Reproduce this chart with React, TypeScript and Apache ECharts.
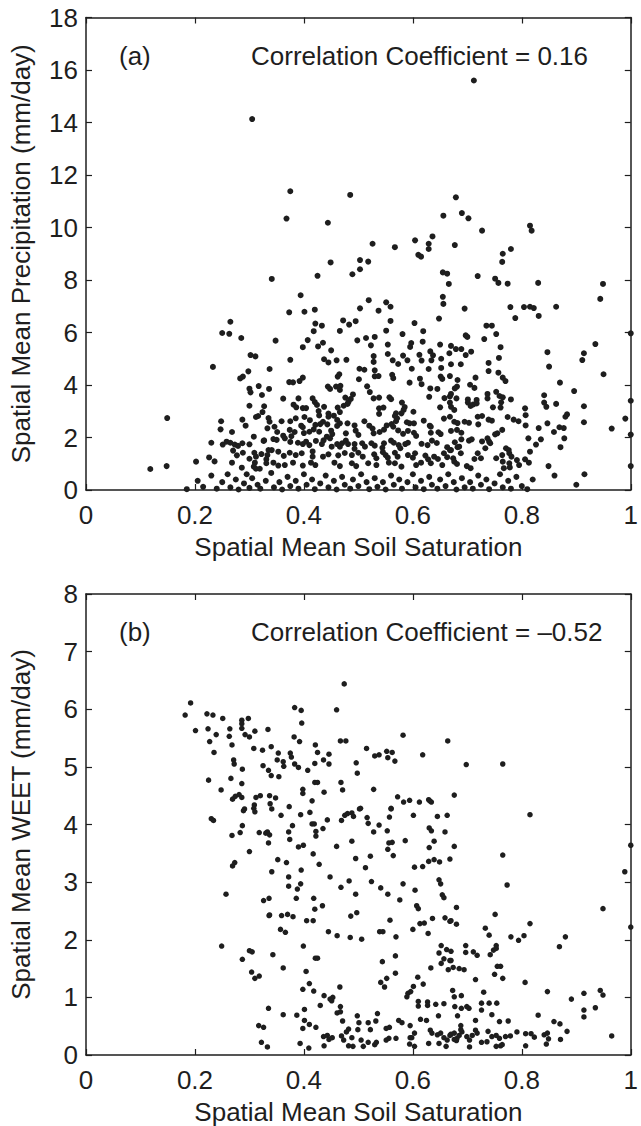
import React, { useEffect, useRef } from "react";
import * as echarts from "echarts";

// ---- Data ----
const xTicks = [0, 0.2, 0.4, 0.6, 0.8, 1];
const precipTicks = [0, 2, 4, 6, 8, 10, 12, 14, 16, 18];
const weetTicks = [0, 1, 2, 3, 4, 5, 6, 7, 8];

// (a) soil saturation vs precipitation (mm/day)
const precipHigh: [number, number][] = [
  [0.712, 15.6], [0.305, 14.13], [0.375, 11.38], [0.485, 11.24], [0.368, 10.34], [0.444, 10.18],
  [0.449, 8.67], [0.503, 8.76], [0.503, 8.41], [0.489, 8.22], [0.425, 8.16], [0.341, 8.04],
  [0.518, 8.7], [0.526, 9.38], [0.567, 9.25], [0.604, 9.51], [0.61, 8.96], [0.615, 8.89],
  [0.629, 9.38], [0.629, 9.18], [0.636, 9.66], [0.656, 10.45], [0.679, 11.15], [0.69, 10.55],
  [0.702, 10.35], [0.727, 9.88], [0.677, 9.33], [0.655, 8.29], [0.663, 8.24], [0.719, 8.15],
  [0.751, 8.05], [0.764, 8.69], [0.765, 9.0], [0.78, 9.18], [0.815, 10.07], [0.818, 9.88],
];
const precipLeft: [number, number][] = [
  [0.265, 6.41], [0.25, 5.98], [0.263, 5.95], [0.285, 5.79], [0.302, 5.14], [0.311, 5.09],
  [0.233, 4.69], [0.337, 4.61], [0.298, 4.52], [0.283, 4.25], [0.288, 4.32], [0.3, 3.86],
  [0.302, 3.72], [0.317, 3.96], [0.323, 3.62], [0.336, 3.85], [0.3, 3.21], [0.327, 3.19],
  [0.324, 2.97], [0.149, 2.74], [0.248, 2.62], [0.287, 2.68], [0.293, 2.45], [0.312, 2.78],
  [0.316, 2.82], [0.335, 2.74], [0.333, 2.35], [0.247, 2.31], [0.268, 2.21], [0.308, 2.03],
  [0.327, 1.89], [0.23, 1.8], [0.251, 1.73], [0.258, 1.84], [0.265, 1.8], [0.273, 1.73],
  [0.279, 1.68], [0.287, 1.78], [0.3, 1.74], [0.27, 1.5], [0.277, 1.32], [0.288, 1.42],
  [0.3, 1.19], [0.309, 1.42], [0.312, 1.27], [0.322, 1.37], [0.326, 1.87], [0.335, 1.52],
  [0.333, 1.33], [0.331, 1.17], [0.331, 1.02], [0.31, 1.04], [0.308, 0.89], [0.268, 1.04],
  [0.286, 0.85], [0.226, 1.24], [0.236, 1.09], [0.202, 1.08], [0.148, 0.91], [0.118, 0.8],
  [0.312, 0.81], [0.319, 0.81],
];
const precipMid: [number, number][] = [
  [0.666, 7.85], [0.394, 7.42], [0.373, 6.77], [0.401, 6.79], [0.42, 6.87], [0.519, 7.23],
  [0.503, 6.92], [0.537, 6.83], [0.551, 7.15], [0.559, 6.98], [0.655, 7.36], [0.656, 7.09],
  [0.348, 5.69], [0.421, 6.34], [0.433, 6.26], [0.418, 6.05], [0.472, 6.46], [0.483, 6.3],
  [0.495, 6.43], [0.466, 6.06], [0.559, 6.44], [0.551, 6.07], [0.603, 6.36], [0.619, 6.05],
  [0.648, 6.53], [0.581, 5.94], [0.407, 5.71], [0.398, 5.44], [0.426, 5.47], [0.435, 5.61],
  [0.498, 5.7], [0.514, 5.79], [0.53, 5.83], [0.523, 5.51], [0.554, 5.54], [0.597, 5.6],
  [0.595, 5.45], [0.618, 5.65], [0.65, 5.54], [0.45, 5.32], [0.375, 4.96], [0.437, 4.98],
  [0.445, 4.86], [0.46, 4.94], [0.478, 4.96], [0.528, 5.1], [0.528, 4.88], [0.554, 5.18],
  [0.563, 4.94], [0.573, 4.8], [0.582, 5.12], [0.59, 4.94], [0.612, 5.15], [0.616, 4.93],
  [0.632, 5.28], [0.637, 5.13], [0.634, 4.94], [0.652, 5.0], [0.667, 5.21], [0.502, 4.62],
  [0.511, 4.58], [0.53, 4.56], [0.598, 4.62], [0.629, 4.61], [0.652, 4.65], [0.465, 4.41],
  [0.462, 4.32], [0.398, 4.28], [0.392, 4.15], [0.373, 4.11], [0.38, 4.1], [0.501, 4.22],
  [0.53, 4.33], [0.537, 4.34], [0.562, 4.39], [0.564, 4.26], [0.594, 4.09], [0.613, 4.24],
  [0.616, 4.03], [0.651, 4.32], [0.654, 4.23], [0.668, 4.34], [0.444, 3.94], [0.448, 3.85],
  [0.459, 3.94], [0.467, 3.97], [0.466, 3.81], [0.516, 3.95], [0.49, 3.64], [0.521, 3.73],
  [0.632, 3.87], [0.63, 3.55], [0.645, 3.85], [0.362, 3.48], [0.39, 3.49], [0.416, 3.49],
  [0.42, 3.35], [0.424, 3.24], [0.437, 3.17], [0.476, 3.52], [0.482, 3.36], [0.486, 3.47],
  [0.528, 3.49], [0.538, 3.52], [0.557, 3.53], [0.56, 3.46], [0.58, 3.33], [0.585, 3.16],
  [0.583, 3.05], [0.658, 3.5], [0.668, 3.57], [0.381, 3.25], [0.386, 3.15], [0.398, 3.12],
  [0.404, 3.12], [0.427, 3.01], [0.428, 2.84], [0.445, 2.91], [0.455, 2.83], [0.462, 3.14],
  [0.466, 2.97], [0.473, 3.21], [0.48, 3.28], [0.538, 3.11], [0.546, 3.14], [0.538, 2.9],
  [0.569, 2.92], [0.567, 2.82], [0.601, 2.98], [0.65, 3.15], [0.67, 3.17], [0.668, 3.33],
  [0.359, 2.62], [0.375, 2.62], [0.385, 2.73], [0.401, 2.78], [0.411, 2.66], [0.395, 2.45],
  [0.398, 2.39], [0.421, 2.48], [0.43, 2.51], [0.435, 2.6], [0.443, 2.5], [0.445, 2.79],
  [0.461, 2.67], [0.466, 2.54], [0.461, 2.44], [0.48, 2.54], [0.493, 2.46], [0.511, 2.62],
  [0.52, 2.45], [0.526, 2.34], [0.552, 2.46], [0.561, 2.51], [0.569, 2.62], [0.571, 2.73],
  [0.579, 2.92], [0.573, 2.27], [0.564, 2.41], [0.589, 2.58], [0.594, 2.54], [0.602, 2.54],
  [0.62, 2.64], [0.631, 2.45], [0.633, 2.41], [0.657, 2.72], [0.668, 2.79], [0.337, 2.6],
  [0.346, 2.41], [0.351, 2.21], [0.374, 2.29], [0.383, 2.21], [0.4, 2.17], [0.41, 2.22],
  [0.418, 2.31], [0.428, 2.22], [0.45, 2.26], [0.452, 2.13], [0.477, 2.16], [0.495, 2.26],
  [0.5, 2.1], [0.528, 2.16], [0.539, 2.21], [0.547, 2.3], [0.582, 2.14], [0.591, 2.25],
  [0.602, 2.18], [0.606, 2.06], [0.633, 2.18], [0.647, 2.2], [0.651, 2.13], [0.344, 1.94],
  [0.35, 1.91], [0.362, 2.07], [0.365, 1.97], [0.377, 2.05], [0.375, 1.83], [0.389, 1.8],
  [0.398, 1.75], [0.404, 1.84], [0.41, 1.71], [0.422, 1.87], [0.433, 1.75], [0.436, 1.89],
  [0.442, 2.03], [0.448, 1.97], [0.451, 1.65], [0.461, 1.75], [0.466, 1.65], [0.47, 1.78],
  [0.477, 1.88], [0.481, 1.75], [0.493, 1.75], [0.493, 1.57], [0.507, 1.78], [0.512, 1.65],
  [0.524, 1.78], [0.53, 1.69], [0.547, 1.78], [0.544, 1.61], [0.56, 1.88], [0.565, 1.8],
  [0.574, 1.71], [0.577, 1.59], [0.586, 1.75], [0.591, 1.8], [0.616, 1.76], [0.627, 1.71],
  [0.635, 1.88], [0.644, 1.79], [0.663, 1.63], [0.668, 1.52], [0.341, 1.52], [0.353, 1.46],
  [0.363, 1.3], [0.374, 1.42], [0.385, 1.33], [0.396, 1.4], [0.416, 1.47], [0.416, 1.27],
  [0.435, 1.27], [0.445, 1.36], [0.463, 1.32], [0.475, 1.41], [0.488, 1.33], [0.5, 1.42],
  [0.508, 1.27], [0.529, 1.36], [0.533, 1.21], [0.545, 1.44], [0.55, 1.33], [0.554, 1.23],
  [0.567, 1.42], [0.572, 1.27], [0.591, 1.33], [0.6, 1.23], [0.604, 1.4], [0.623, 1.31],
  [0.628, 1.17], [0.639, 1.27], [0.646, 1.18], [0.657, 1.4], [0.663, 1.25], [0.344, 1.04],
  [0.353, 0.93], [0.365, 0.95], [0.38, 1.04], [0.398, 0.93], [0.413, 1.04], [0.421, 0.95],
  [0.456, 1.04], [0.466, 0.91], [0.488, 1.02], [0.496, 0.91], [0.518, 1.02], [0.533, 0.95],
  [0.556, 1.04], [0.567, 1.02], [0.579, 0.89], [0.606, 0.95], [0.615, 1.04], [0.633, 1.02],
  [0.654, 0.95],
];
const precipRight: [number, number][] = [
  [0.757, 7.89], [0.774, 7.86], [0.83, 7.89], [0.949, 7.85], [0.944, 7.28], [0.695, 6.91],
  [0.779, 6.97], [0.788, 6.55], [0.804, 6.97], [0.815, 6.98], [0.822, 6.93], [0.831, 6.63],
  [0.863, 6.98], [0.735, 6.26], [0.745, 6.26], [0.753, 5.94], [0.731, 5.75], [0.697, 5.89],
  [0.7, 5.83], [0.67, 5.49], [0.679, 5.37], [0.689, 5.37], [0.697, 5.14], [0.707, 5.27],
  [0.761, 5.44], [0.758, 5.03], [0.739, 4.84], [0.739, 4.53], [0.67, 4.79], [0.688, 4.79],
  [0.757, 4.47], [0.765, 4.28], [0.77, 4.15], [0.847, 5.25], [0.85, 4.7], [0.914, 5.21],
  [0.911, 4.95], [0.935, 5.56], [0.95, 4.41], [0.682, 4.19], [0.681, 3.94], [0.677, 3.87],
  [0.67, 3.66], [0.705, 4.01], [0.713, 3.89], [0.715, 4.28], [0.737, 3.66], [0.737, 3.49],
  [0.753, 3.74], [0.759, 3.58], [0.765, 3.53], [0.78, 3.45], [0.762, 3.34], [0.87, 4.09],
  [0.896, 3.77], [0.841, 3.61], [0.841, 3.33], [0.845, 3.17], [0.863, 3.28], [1.0, 3.4],
  [0.701, 3.45], [0.701, 3.33], [0.706, 3.2], [0.711, 3.26], [0.717, 3.43], [0.717, 3.3],
  [0.68, 3.49], [0.676, 3.05], [0.747, 3.15], [0.761, 3.14], [0.806, 3.11], [0.807, 2.85],
  [0.807, 2.46], [0.914, 3.19], [0.914, 2.58], [0.99, 2.72], [0.965, 2.34], [0.719, 2.79],
  [0.727, 2.82], [0.72, 2.5], [0.695, 2.6], [0.703, 2.56], [0.676, 2.6], [0.682, 2.55],
  [0.739, 2.68], [0.745, 2.64], [0.774, 2.78], [0.785, 2.68], [0.794, 2.62], [0.831, 2.36],
  [0.847, 2.54], [0.88, 2.79], [0.883, 2.88], [0.869, 2.39], [0.877, 2.36], [0.859, 2.21],
  [0.67, 2.25], [0.681, 2.29], [0.689, 2.18], [0.755, 2.16], [0.764, 2.29], [0.878, 1.97],
  [0.812, 1.97], [0.835, 1.93], [0.826, 1.73], [0.871, 1.63], [0.815, 1.46], [0.677, 1.82],
  [0.685, 1.65], [0.689, 1.93], [0.703, 1.88], [0.708, 1.93], [0.727, 1.85], [0.737, 1.97],
  [0.74, 1.84], [0.742, 1.78], [0.733, 1.59], [0.751, 2.12], [0.771, 1.59], [0.776, 1.52],
  [0.67, 1.52], [0.682, 1.63], [0.688, 1.4], [0.719, 1.4], [0.725, 1.21], [0.764, 1.33],
  [0.765, 1.08], [0.777, 1.4], [0.781, 1.27], [0.753, 1.21], [0.713, 1.18], [0.674, 1.21],
  [0.676, 1.08], [0.681, 0.99], [0.699, 0.91], [0.706, 0.83], [0.777, 1.02], [0.791, 1.14],
  [0.795, 0.95], [0.806, 1.17], [0.813, 1.04], [0.767, 0.83], [0.778, 0.86], [0.849, 0.91],
  [1.0, 2.11], [1.0, 0.91], [1.0, 5.97],
];
const precipLow: [number, number][] = [
  [0.185, 0.03], [0.205, 0.35], [0.215, 0.12], [0.23, 0.55], [0.24, 0.05], [0.25, 0.3],
  [0.26, 0.6], [0.265, 0.1], [0.275, 0.4], [0.28, 0.02], [0.29, 0.25], [0.295, 0.6],
  [0.3, 0.08], [0.305, 0.45], [0.315, 0.2], [0.32, 0.05], [0.33, 0.35], [0.34, 0.65],
  [0.345, 0.1], [0.355, 0.3], [0.36, 0.02], [0.37, 0.5], [0.375, 0.15], [0.385, 0.35],
  [0.39, 0.05], [0.4, 0.6], [0.405, 0.2], [0.415, 0.4], [0.42, 0.03], [0.43, 0.25],
  [0.44, 0.55], [0.445, 0.1], [0.455, 0.35], [0.46, 0.02], [0.47, 0.5], [0.475, 0.2],
  [0.485, 0.05], [0.49, 0.4], [0.5, 0.15], [0.505, 0.6], [0.515, 0.3], [0.52, 0.03],
  [0.53, 0.45], [0.535, 0.12], [0.545, 0.3], [0.55, 0.02], [0.56, 0.55], [0.565, 0.2],
  [0.575, 0.4], [0.58, 0.05], [0.59, 0.3], [0.6, 0.6], [0.605, 0.1], [0.615, 0.35],
  [0.62, 0.03], [0.63, 0.5], [0.635, 0.2], [0.645, 0.05], [0.65, 0.4], [0.66, 0.15],
  [0.665, 0.6], [0.675, 0.3], [0.68, 0.02], [0.69, 0.45], [0.695, 0.1], [0.705, 0.3],
  [0.71, 0.05], [0.72, 0.55], [0.725, 0.2], [0.735, 0.4], [0.74, 0.03], [0.75, 0.25],
  [0.76, 0.6], [0.765, 0.1], [0.775, 0.35], [0.78, 0.05], [0.79, 0.5], [0.8, 0.15],
  [0.81, 0.03], [0.82, 0.4], [0.86, 0.55], [0.9, 0.2], [0.915, 0.6],
];

// (b) soil saturation vs WEET (mm/day)
const weetUpper: [number, number][] = [
  [0.474, 6.44], [0.192, 6.11], [0.182, 5.9], [0.222, 5.92], [0.233, 5.9], [0.251, 5.84],
  [0.286, 5.81], [0.298, 5.84], [0.286, 5.75], [0.383, 6.03], [0.395, 5.98], [0.46, 5.99],
  [0.396, 5.76], [0.201, 5.63], [0.224, 5.66], [0.239, 5.56], [0.264, 5.66], [0.263, 5.53],
  [0.286, 5.67], [0.292, 5.56], [0.3, 5.52], [0.31, 5.62], [0.334, 5.65], [0.382, 5.52],
  [0.392, 5.44], [0.227, 5.44], [0.268, 5.38], [0.308, 5.32], [0.324, 5.29], [0.34, 5.35],
  [0.353, 5.24], [0.351, 5.12], [0.362, 5.09], [0.363, 5.01], [0.375, 5.24], [0.377, 5.17],
  [0.383, 5.05], [0.39, 4.99], [0.421, 5.38], [0.425, 5.25], [0.436, 5.12], [0.446, 5.22],
  [0.446, 5.05], [0.467, 5.45], [0.477, 5.45], [0.496, 5.07], [0.498, 4.89], [0.42, 5.06],
  [0.407, 4.94], [0.235, 5.25], [0.271, 5.12], [0.272, 5.05], [0.287, 4.96], [0.325, 5.02],
  [0.335, 4.94], [0.34, 4.85], [0.354, 4.83], [0.225, 4.77], [0.266, 4.8], [0.286, 4.71],
  [0.248, 4.6], [0.269, 4.44], [0.274, 4.49], [0.281, 4.52], [0.286, 4.47], [0.312, 4.47],
  [0.32, 4.5], [0.337, 4.5], [0.348, 4.46], [0.398, 4.61], [0.398, 4.54], [0.42, 4.73],
  [0.425, 4.73], [0.437, 4.56], [0.415, 4.41], [0.468, 4.73], [0.471, 4.6], [0.309, 4.34],
  [0.308, 4.28], [0.338, 4.36], [0.341, 4.27], [0.373, 4.31], [0.291, 4.27], [0.582, 5.55],
  [0.664, 5.45], [0.515, 5.32], [0.53, 5.19], [0.538, 5.21], [0.552, 5.27], [0.562, 5.25],
  [0.554, 5.16], [0.567, 5.1], [0.618, 5.21], [0.698, 5.04], [0.765, 5.05], [0.528, 4.61],
  [0.572, 4.48], [0.583, 4.39], [0.594, 4.42], [0.612, 4.39], [0.629, 4.43], [0.634, 4.39],
  [0.676, 4.51], [0.504, 4.28], [0.56, 4.28], [0.631, 4.41],
];
const weetLeft: [number, number][] = [
  [0.31, 4.22], [0.289, 4.24], [0.23, 4.1], [0.234, 4.07], [0.287, 3.98], [0.268, 3.81],
  [0.283, 3.86], [0.318, 3.86], [0.33, 3.85], [0.333, 3.87], [0.335, 3.68], [0.3, 3.53],
  [0.269, 3.28], [0.273, 3.34], [0.257, 2.79], [0.326, 2.68], [0.336, 2.72], [0.249, 1.89],
  [0.3, 1.81], [0.305, 1.79], [0.287, 1.66], [0.304, 1.44], [0.31, 1.33], [0.318, 1.37],
  [0.335, 0.81], [0.317, 0.51], [0.326, 0.48], [0.322, 0.22], [0.333, 0.14], [0.336, 2.42],
];
const weetMid: [number, number][] = [
  [0.358, 4.16], [0.394, 4.17], [0.411, 4.21], [0.379, 3.98], [0.372, 3.87], [0.374, 3.74],
  [0.415, 4.01], [0.419, 4.01], [0.422, 3.88], [0.422, 3.8], [0.435, 3.93], [0.443, 4.08],
  [0.469, 4.07], [0.475, 4.16], [0.48, 4.19], [0.488, 4.2], [0.491, 4.14], [0.502, 4.27],
  [0.516, 4.12], [0.518, 4.02], [0.528, 3.87], [0.538, 3.99], [0.553, 3.89], [0.56, 4.27],
  [0.557, 4.13], [0.556, 3.68], [0.562, 3.69], [0.554, 3.57], [0.564, 3.46], [0.586, 3.72],
  [0.601, 4.16], [0.63, 3.94], [0.634, 3.89], [0.645, 4.14], [0.663, 4.16], [0.659, 3.87],
  [0.639, 3.71], [0.63, 3.6], [0.668, 3.4], [0.337, 3.82], [0.39, 3.61], [0.399, 3.64],
  [0.417, 3.49], [0.46, 3.62], [0.488, 3.71], [0.352, 3.39], [0.368, 3.34], [0.428, 3.31],
  [0.395, 3.21], [0.341, 3.18], [0.495, 3.41], [0.513, 3.25], [0.522, 3.45], [0.603, 3.26],
  [0.618, 3.27], [0.629, 3.36], [0.639, 3.39], [0.649, 3.35], [0.372, 3.09], [0.372, 2.93],
  [0.394, 2.97], [0.388, 2.88], [0.386, 2.72], [0.448, 3.09], [0.468, 2.91], [0.483, 3.02],
  [0.495, 2.79], [0.524, 3.01], [0.541, 2.9], [0.554, 2.79], [0.582, 2.97], [0.576, 2.69],
  [0.604, 2.86], [0.648, 3.04], [0.651, 2.97], [0.654, 2.78], [0.657, 2.73], [0.418, 2.72],
  [0.42, 2.53], [0.434, 2.59], [0.486, 2.41], [0.497, 2.47], [0.607, 2.59], [0.61, 2.54],
  [0.337, 2.43], [0.359, 2.42], [0.37, 2.44], [0.38, 2.4], [0.405, 2.33], [0.417, 2.33],
  [0.558, 2.34], [0.613, 2.28], [0.621, 2.29], [0.636, 2.37], [0.659, 2.38], [0.668, 2.32],
  [0.357, 2.18], [0.366, 2.13], [0.445, 2.14], [0.461, 2.07], [0.485, 2.04], [0.506, 2.01],
  [0.539, 2.14], [0.545, 2.14], [0.569, 2.05], [0.6, 2.18], [0.628, 2.11], [0.399, 1.89],
  [0.343, 1.74], [0.421, 1.68], [0.425, 1.68], [0.362, 1.51], [0.404, 1.45], [0.544, 1.62],
  [0.568, 1.72], [0.568, 1.42], [0.552, 1.33], [0.541, 1.26], [0.548, 1.18], [0.633, 1.51],
  [0.652, 1.9], [0.662, 1.83], [0.648, 1.77], [0.657, 1.67], [0.652, 1.59], [0.665, 1.48],
  [0.668, 1.64], [0.41, 1.24], [0.398, 1.14], [0.418, 1.11], [0.466, 1.18], [0.437, 1.03],
  [0.448, 0.97], [0.453, 1.0], [0.451, 0.94], [0.43, 0.86], [0.467, 0.84], [0.461, 0.73],
  [0.467, 0.75], [0.601, 1.19], [0.609, 1.35], [0.619, 1.23], [0.591, 1.07], [0.589, 1.01],
  [0.596, 1.1], [0.61, 0.93], [0.61, 0.85], [0.627, 0.92], [0.627, 0.86], [0.642, 0.88],
  [0.657, 0.89], [0.647, 0.68], [0.362, 0.7], [0.387, 0.69], [0.401, 0.79], [0.401, 0.6],
  [0.41, 0.53], [0.398, 0.46], [0.422, 0.48], [0.471, 0.59], [0.498, 0.68], [0.501, 0.56],
  [0.518, 0.56], [0.522, 0.44], [0.535, 0.72], [0.532, 0.59], [0.482, 0.45], [0.478, 0.4],
  [0.499, 0.44], [0.551, 0.46], [0.557, 0.48], [0.574, 0.6], [0.58, 0.56], [0.595, 0.51],
  [0.603, 0.38], [0.595, 0.3], [0.614, 0.62], [0.625, 0.6], [0.632, 0.43], [0.635, 0.38],
  [0.645, 0.35], [0.651, 0.38], [0.657, 0.3], [0.663, 0.26], [0.661, 0.15], [0.668, 0.34],
  [0.436, 0.32], [0.443, 0.34], [0.446, 0.27], [0.452, 0.3], [0.437, 0.16], [0.469, 0.33],
  [0.473, 0.26], [0.488, 0.3], [0.482, 0.16], [0.49, 0.15], [0.505, 0.26], [0.509, 0.15],
  [0.518, 0.22], [0.53, 0.18], [0.533, 0.22], [0.551, 0.26], [0.556, 0.29], [0.569, 0.29],
  [0.594, 0.19], [0.603, 0.15], [0.598, 0.3], [0.393, 0.2], [0.409, 0.12], [0.629, 0.2],
  [0.648, 0.2],
];
const weetRight: [number, number][] = [
  [0.815, 4.17], [0.676, 3.62], [0.765, 3.47], [0.773, 2.95], [0.989, 3.18], [1.0, 3.64],
  [0.949, 2.54], [1.0, 2.22], [0.68, 2.56], [0.67, 2.33], [0.68, 2.27], [0.751, 2.44],
  [0.733, 2.2], [0.74, 2.08], [0.815, 2.28], [0.78, 2.05], [0.794, 1.99], [0.804, 2.07],
  [0.869, 1.88], [0.88, 2.05], [0.697, 1.9], [0.697, 1.78], [0.711, 1.79], [0.718, 1.73],
  [0.742, 1.74], [0.748, 1.82], [0.753, 1.9], [0.753, 1.85], [0.67, 1.8], [0.67, 1.64],
  [0.674, 1.52], [0.685, 1.5], [0.694, 1.48], [0.755, 1.54], [0.761, 1.54], [0.75, 1.4],
  [0.765, 1.33], [0.715, 1.31], [0.806, 1.26], [0.673, 1.12], [0.676, 1.01], [0.689, 1.03],
  [0.73, 1.09], [0.726, 0.9], [0.726, 0.78], [0.74, 0.9], [0.754, 0.9], [0.677, 0.84],
  [0.689, 0.81], [0.699, 0.84], [0.703, 0.81], [0.682, 0.68], [0.745, 0.7], [0.715, 0.6],
  [0.759, 0.58], [0.775, 0.59], [0.847, 1.1], [0.891, 0.97], [0.914, 1.07], [0.944, 1.12],
  [0.949, 1.04], [0.935, 0.82], [0.914, 0.78], [0.914, 0.66], [0.83, 0.69], [0.859, 0.58],
  [0.87, 0.54], [0.883, 0.41], [0.871, 0.27], [0.965, 0.33], [0.841, 0.35], [0.847, 0.38],
  [0.849, 0.28], [0.845, 0.19], [0.791, 0.4], [0.807, 0.37], [0.817, 0.37], [0.823, 0.31],
  [0.807, 0.16], [0.67, 0.36], [0.676, 0.38], [0.681, 0.29], [0.685, 0.34], [0.69, 0.4],
  [0.688, 0.51], [0.688, 0.44], [0.68, 0.25], [0.676, 0.27], [0.699, 0.32], [0.704, 0.26],
  [0.704, 0.14], [0.709, 0.34], [0.715, 0.43], [0.718, 0.38], [0.726, 0.22], [0.736, 0.23],
  [0.738, 0.41], [0.745, 0.32], [0.753, 0.34], [0.759, 0.29], [0.753, 0.15], [0.761, 0.16],
  [0.764, 0.18], [0.77, 0.32], [0.779, 0.33],
];

const precipPoints = [...precipHigh, ...precipLeft, ...precipMid, ...precipRight, ...precipLow];
const weetPoints = [...weetUpper, ...weetLeft, ...weetMid, ...weetRight];

const FONT = "'Liberation Sans', Arial, Helvetica, sans-serif";
const INK = "#1e1e1e";

function xAxisPair(grid: number) {
  const base = {
    gridIndex: grid,
    type: "value" as const,
    min: xTicks[0],
    max: xTicks[xTicks.length - 1],
    interval: xTicks[1] - xTicks[0],
    splitLine: { show: false },
    axisLine: { show: true, onZero: false, lineStyle: { color: INK, width: 1.5 } },
    axisTick: { show: true, inside: true, length: 6, lineStyle: { color: INK, width: 1.2 } },
  };
  return [
    {
      ...base,
      position: "bottom",
      axisLabel: { show: true, fontSize: 26, color: INK, fontFamily: FONT, margin: 12, showMinLabel: true, showMaxLabel: true },
      name: "Spatial Mean Soil Saturation",
      nameLocation: "middle",
      nameGap: 44,
      nameTextStyle: { fontSize: 26, color: INK, fontFamily: FONT },
    },
    { ...base, position: "top", axisLabel: { show: false } },
  ];
}

function yAxisPair(grid: number, ticks: number[], title: string) {
  const base = {
    gridIndex: grid,
    type: "value" as const,
    min: ticks[0],
    max: ticks[ticks.length - 1],
    interval: ticks[1] - ticks[0],
    splitLine: { show: false },
    axisLine: { show: true, onZero: false, lineStyle: { color: INK, width: 1.5 } },
    axisTick: { show: true, inside: true, length: 6, lineStyle: { color: INK, width: 1.2 } },
  };
  return [
    {
      ...base,
      position: "left",
      axisLabel: { show: true, fontSize: 26, color: INK, fontFamily: FONT, margin: 8, showMinLabel: true, showMaxLabel: true },
      name: title,
      nameLocation: "middle",
      nameGap: 52,
      nameRotate: 90,
      nameTextStyle: { fontSize: 26, color: INK, fontFamily: FONT },
    },
    { ...base, position: "right", axisLabel: { show: false } },
  ];
}

export default function App() {
  const ref = useRef<HTMLDivElement>(null);
  useEffect(() => {
    if (!ref.current) return;
    const chart = echarts.init(ref.current, undefined, { renderer: "svg" });
    const textStyle = { fontSize: 26, fill: INK, fontFamily: FONT, verticalAlign: "middle", align: "left" };
    chart.setOption({
      animation: false,
      backgroundColor: "#ffffff",
      grid: [
        { left: 85, right: 2.5, top: 17.5, height: 472.5, show: false },
        { left: 85, right: 2.5, top: 594, height: 461.5, show: false },
      ],
      xAxis: [...xAxisPair(0), ...xAxisPair(1)],
      yAxis: [
        ...yAxisPair(0, precipTicks, "Spatial Mean Precipitation (mm/day)"),
        ...yAxisPair(1, weetTicks, "Spatial Mean WEET (mm/day)"),
      ],
      series: [
        {
          type: "scatter",
          xAxisIndex: 0,
          yAxisIndex: 0,
          data: precipPoints,
          symbolSize: 6,
          clip: true,
          itemStyle: { color: INK, opacity: 1 },
        },
        {
          type: "scatter",
          xAxisIndex: 2,
          yAxisIndex: 2,
          data: weetPoints,
          symbolSize: 5.5,
          clip: true,
          itemStyle: { color: INK, opacity: 1 },
        },
      ],
      graphic: [
        { type: "text", x: 119, y: 56, style: { ...textStyle, text: "(a)" } },
        { type: "text", x: 251, y: 56, style: { ...textStyle, text: "Correlation Coefficient = 0.16" } },
        { type: "text", x: 119, y: 632, style: { ...textStyle, text: "(b)" } },
        { type: "text", x: 251, y: 632, style: { ...textStyle, text: "Correlation Coefficient = \u20130.52" } },
      ],
    });
    return () => chart.dispose();
  }, []);
  return (
    <div
      ref={ref}
      style={{ position: "absolute", left: 0, top: 0, width: 641, height: 1126, background: "#fff" }}
    />
  );
}
